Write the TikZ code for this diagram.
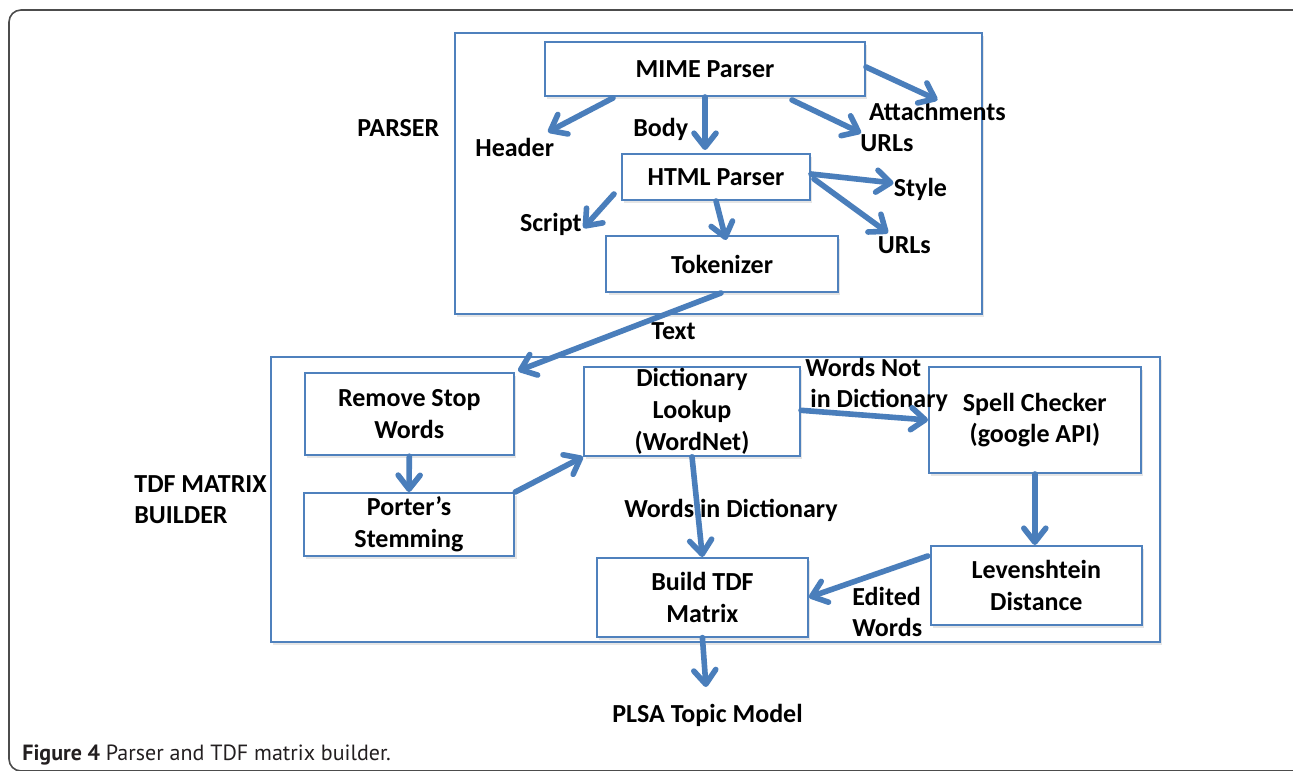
\documentclass[tikz,border=0pt]{standalone}
\usepackage{fontspec}
\setmainfont{Carlito}
\newfontfamily\capfont{PT Sans}
\usetikzlibrary{arrows.meta,shadows}

\definecolor{boxblue}{RGB}{79,129,189}
\definecolor{arrblue}{RGB}{74,126,187}
\definecolor{capgray}{RGB}{35,31,32}

\tikzset{
  group/.style={draw=boxblue, line width=1pt, fill=white, inner sep=0pt,
    drop shadow={opacity=0.2, shadow xshift=1.2pt, shadow yshift=-1.5pt}},
  stage/.style={group, align=center, font=\bfseries\fontsize{13}{15.8}\selectfont},
  lbl/.style={inner sep=0pt, align=left, font=\bfseries\fontsize{13}{15.5}\selectfont},
  flow/.style={draw=arrblue, line width=2.8pt, line cap=round,
    -{Straight Barb[length=7pt,width=11pt,round]}},
}

\begin{document}
\begin{tikzpicture}[x=0.5pt, y=-0.5pt]
  \useasboundingbox (0,0) rectangle (1293,770);
  % page frame, runs off at the right and the bottom
  \begin{scope}
    \clip (0,0) rectangle (1293,770);
    \draw[black!70, line width=0.8pt, rounded corners=6pt] (9,10) rectangle (1310,771);
  \end{scope}

  % the two stages
  \node[group, minimum width=263.5pt, minimum height=140.5pt] (parser) at (718.5,173.5) {};
  \node[group, minimum width=444.5pt, minimum height=142.5pt] (builder) at (715.5,499.5) {};
  \node[lbl, anchor=base west] (parserlbl) at (357,137) {PARSER};
  \node[lbl, anchor=base west] (builderlbl) at (134,523) {TDF MATRIX\\BUILDER};

  % parser boxes
  \node[stage, minimum width=160pt, minimum height=27pt] (mime) at (705,69) {MIME Parser};
  \node[stage, minimum width=94pt, minimum height=23pt] (html) at (716,177) {HTML Parser};
  \node[stage, minimum width=115.75pt, minimum height=28pt] (tok) at (722,264) {Tokenizer};

  % matrix builder boxes
  \node[stage, minimum width=104.7pt, minimum height=41.2pt] (stopw) at (409.3,414) {Remove Stop\\Words};
  \node[stage, minimum width=105.2pt, minimum height=31.5pt] (porter) at (409,524.5) {Porter’s\\Stemming};
  \node[stage, minimum width=108pt, minimum height=44.5pt] (dict) at (692,411.3) {Dictionary\\Lookup\\(WordNet)};
  \node[stage, minimum width=105.8pt, minimum height=53pt] (spell) at (1034.8,420) {Spell Checker\\(google API)};
  \node[stage, minimum width=105.6pt, minimum height=39.5pt] (leven) at (1036.3,585.5) {Levenshtein\\Distance};
  \node[stage, minimum width=105.6pt, minimum height=39.3pt] (tdfm) at (702.4,597.3) {Build TDF\\Matrix};

  % outputs of the parsers
  \node[lbl, anchor=base west] (header) at (475,157) {Header};
  \node[lbl, anchor=base west] (body) at (633,137) {Body};
  \node[lbl, anchor=base west] (urlsa) at (860,152) {URLs};
  \node[lbl, anchor=base west] (attach) at (868.6,121) {Attachments};
  \node[lbl, anchor=base west] (script) at (519.6,231) {Script};
  \node[lbl, anchor=base west] (style) at (893.5,197) {Style};
  \node[lbl, anchor=base west] (urlsb) at (877.4,253) {URLs};
  \node[lbl, anchor=base west] (text) at (651,339) {Text};
  \node[lbl, anchor=base west] (notdict) at (805,407) {Words Not\\\hspace*{2.5pt}in Dictionary};
  \node[lbl, anchor=base west] (indict) at (624,517) {Words in Dictionary};
  \node[lbl, anchor=base west] (edited) at (852,636) {Edited\\Words};
  \node[lbl, anchor=base west] (plsa) at (612,722) {PLSA Topic Model};

  % arrow ends
  \coordinate (headertip) at (548,132);
  \coordinate (urlsatip) at (861,133);
  \coordinate (attachtip) at (937.5,100);
  \coordinate (scripttip) at (583.5,228);
  \coordinate (styletip) at (893.5,183);
  \coordinate (urlsbtip) at (888,233);
  \coordinate (plsatip) at (706,687);

  \draw[flow] ([shift={(-92,1)}]mime.south) -- (headertip);
  \draw[flow] (mime.south) -- ([shift={(0,-3)}]mime.south |- html.north);
  \draw[flow] ([shift={(87,3)}]mime.south) -- (urlsatip);
  \draw[flow] ([shift={(0,-2)}]mime.east) -- (attachtip);
  \draw[flow] ([shift={(-7,-7)}]html.south west) -- (scripttip);
  \draw[flow] ([shift={(0,-3)}]html.east) -- (styletip);
  \draw[flow] ([shift={(3,2)}]html.east) -- (urlsbtip);
  \draw[flow] (html.south) -- ([shift={(4,5)}]tok.north);
  \draw[flow] ([shift={(-1,0)}]tok.south) -- ([shift={(3,-1)}]stopw.north east);
  \draw[flow] (stopw.south) -- (porter.north);
  \draw[flow] (porter.north east) -- (dict.south west);
  \draw[flow] ([shift={(0,-1)}]dict.east) -- (spell.west);
  \draw[flow] (dict.south) -- (tdfm.north);
  \draw[flow] (spell.south) -- (spell.south |- leven.north);
  \draw[flow] ([shift={(-2,11)}]leven.north west) -- (tdfm.east);
  \draw[flow] (tdfm.south) -- (plsatip);

  \node[anchor=base west, inner sep=0pt, text=capgray,
    font=\capfont\fontsize{11}{13}\selectfont] (caption) at (22,760)
    {\textbf{Figure 4} Parser and TDF matrix builder.};
\end{tikzpicture}
\end{document}
